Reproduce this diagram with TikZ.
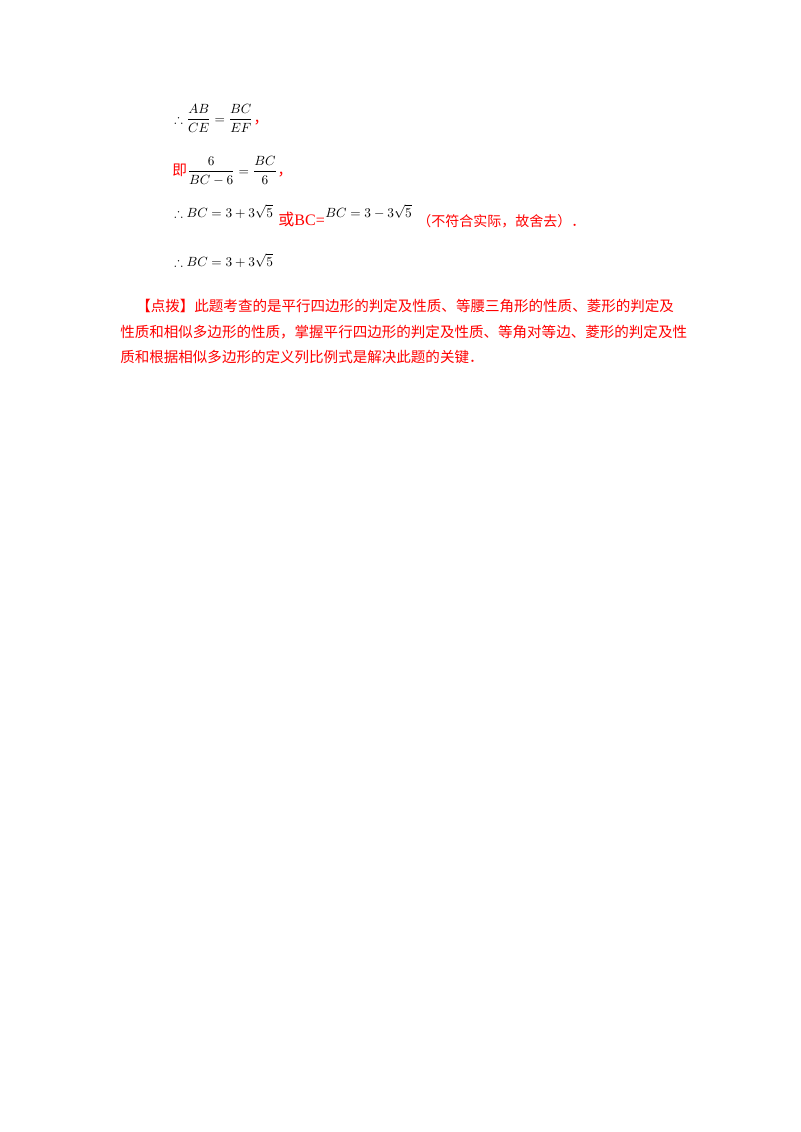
\documentclass[tikz,border=0pt]{standalone}
\usepackage{amssymb}
\usepackage{fontspec}
\setmainfont{Liberation Serif}
\newfontfamily\cjk{Noto Sans CJK SC}
\definecolor{redt}{RGB}{255,0,0}
\begin{document}
\begin{tikzpicture}[x=0.75pt,y=-0.75pt,
  txt/.style={anchor=base west,inner sep=0pt,font=\fontsize{9.6}{12}\selectfont},
  rt/.style={txt,text=redt,font=\fontsize{11}{13}\selectfont}]
\useasboundingbox (0,0) rectangle (800,1132);
\node[txt] (l1) at (174,123) {$\therefore\displaystyle\frac{AB}{CE}=\frac{BC}{EF}$};
\node[rt] (c1) at (l1.base east) {\cjk ，};
\node[rt] (l2a) at (172,175) {\cjk 即};
\node[txt] (l2) at (l2a.base east) {$\displaystyle\frac{6}{BC-6}=\frac{BC}{6}$};
\node[rt] (c2) at (l2.base east) {\cjk ，};
\node[txt] (l3) at (174,217) {$\therefore BC=3+3\sqrt5$};
\node[rt,font=\fontsize{12}{14}\selectfont] (l3b) at ([shift={(5,8)}]l3.base east) {\cjk 或\rmfamily BC=};
\node[txt] (l3c) at ([shift={(0,-8)}]l3b.base east) {$BC=3-3\sqrt5$};
\node[rt,font=\fontsize{10.5}{13}\selectfont] (l3d) at ([shift={(5,9)}]l3c.base east) {\cjk （不符合实际，故舍去）．};
\node[txt] (l4) at (174,266) {$\therefore BC=3+3\sqrt5$};
\node[rt,font=\fontsize{10.9}{13}\selectfont] (p1) at (136,311) {\cjk 【点拨】此题考查的是平行四边形的判定及性质、等腰三角形的性质、菱形的判定及};
\node[rt,font=\fontsize{10.9}{13}\selectfont] (p2) at (120,337) {\cjk 性质和相似多边形的性质，掌握平行四边形的判定及性质、等角对等边、菱形的判定及性};
\node[rt,font=\fontsize{10.9}{13}\selectfont] (p3) at (120,362) {\cjk 质和根据相似多边形的定义列比例式是解决此题的关键．};
\end{tikzpicture}
\end{document}
